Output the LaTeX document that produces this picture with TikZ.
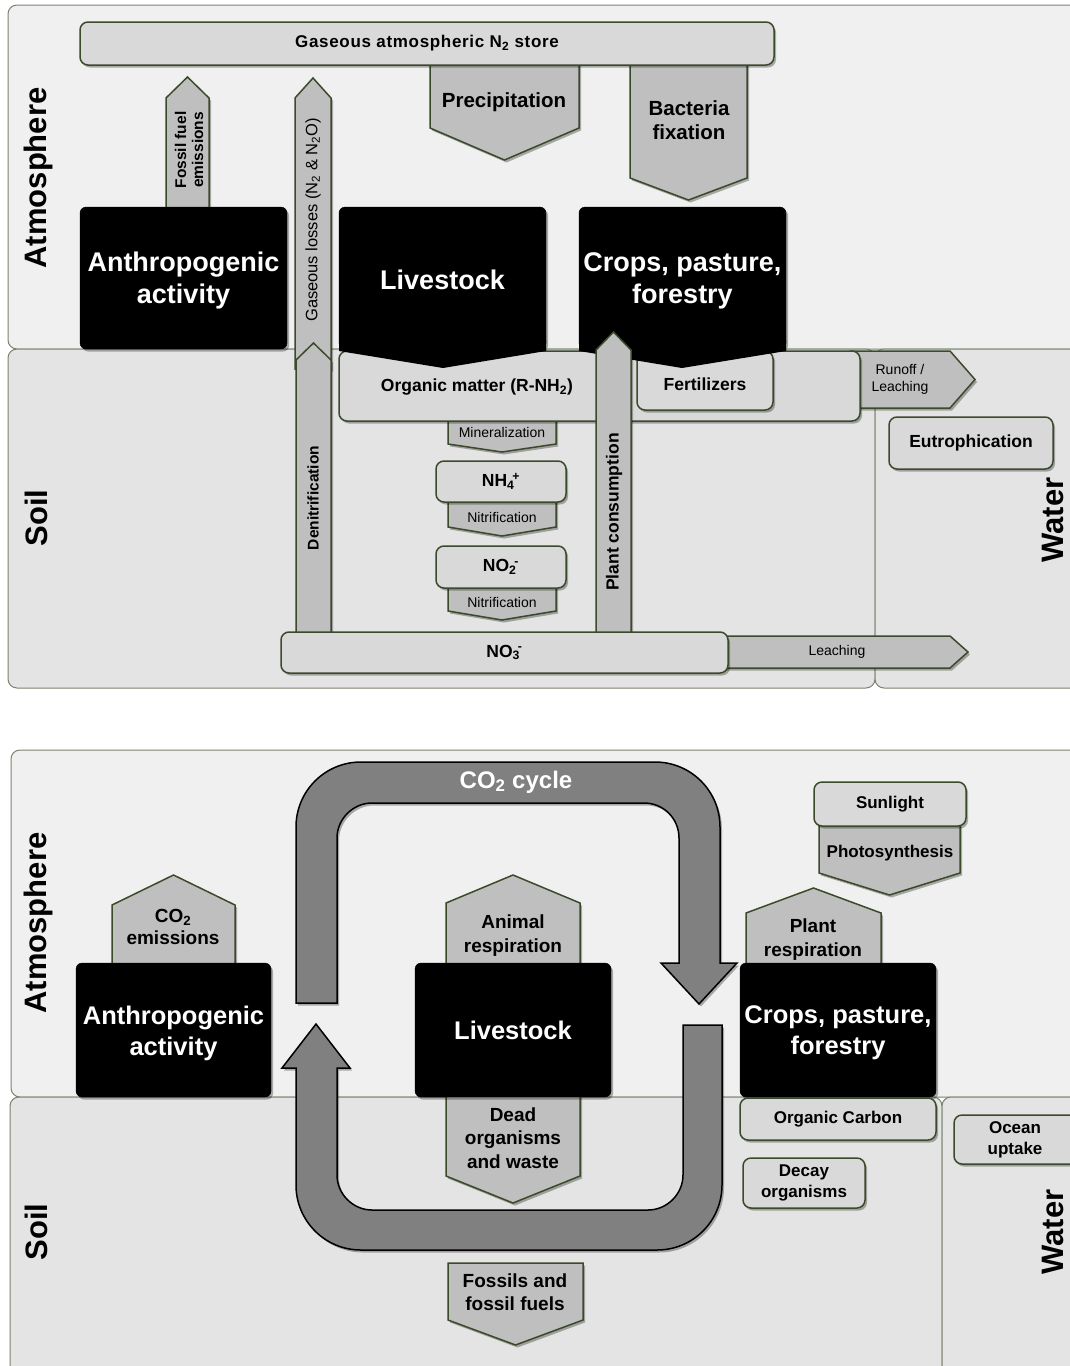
\documentclass[tikz,border=0pt]{standalone}
\usepackage{fontspec}
\setmainfont{Liberation Sans}
\usetikzlibrary{shadows}
\definecolor{atmfill}{HTML}{F0F0F0}
\definecolor{soilfill}{HTML}{E4E4E4}
\definecolor{panelline}{HTML}{7A8470}
\definecolor{olivedark}{HTML}{3B4A2B}
\definecolor{boxfill}{HTML}{D9D9D9}
\definecolor{arrowfill}{HTML}{BFBFBF}
\definecolor{loopgray}{HTML}{808080}
\newcommand{\subsup}[2]{\textsubscript{#1}\kern-0.12em\textsuperscript{#2}}
\tikzset{
  shadowed/.style={drop shadow={shadow xshift=2pt,shadow yshift=-2.5pt,opacity=0.3,fill=black}},
  panelA/.style={draw=panelline,fill=atmfill,line width=1pt,rounded corners=9pt},
  panelS/.style={draw=panelline,fill=soilfill,line width=1pt,rounded corners=9pt},
  lbox/.style={draw=olivedark,fill=boxfill,line width=1.5pt,rounded corners=8pt,shadowed,inner sep=0pt,align=center},
  abox/.style={draw=olivedark,fill=arrowfill,line width=1.5pt,line join=miter,shadowed},
  bbox/.style={draw=black,fill=black,rounded corners=6pt,shadowed,inner sep=0pt},
  btext/.style={inner sep=0pt,align=center,text=white},
  loopband/.style={draw=black,fill=loopgray,line width=1.5pt,shadowed},
  txt/.style={inner sep=0pt,align=center,text=black},
  fB/.style 2 args={font=\bfseries\fontsize{#1}{#2}\selectfont},
  fR/.style 2 args={font=\fontsize{#1}{#2}\selectfont},
  plabel/.style={txt,fB={31}{36},rotate=90},
}
% vertical pentagon arrow: x1, x2, base y, shoulder y, point y
\newcommand{\VPent}[5]{\draw[abox] (#1,#3) -- (#2,#3) -- (#2,#4) -- ({(#1+#2)/2},#5) -- (#1,#4) -- cycle;}
% horizontal pentagon arrow: x1, y1, y2, shoulder x, point x
\newcommand{\HPent}[5]{\draw[abox] (#1,#2) -- (#4,#2) -- (#5,{(#2+#3)/2}) -- (#4,#3) -- (#1,#3) -- cycle;}
% light box: name, x1, y1, x2, y2, text, font style
\newcommand{\LBox}[7]{\node[lbox,#7,minimum width={#4-#2},minimum height={#5-#3}] (#1) at ({(#2+#4)/2},{(#3+#5)/2}) {#6};}
% black box: name, x1, y1, x2, y2, text, font style, text offset
\newcommand{\BBox}[8]{\node[bbox,minimum width={#4-#2},minimum height={#5-#3}] (#1) at ({(#2+#4)/2},{(#3+#5)/2}) {};
  \node[btext,#7] (#1-t) at ({(#2+#4)/2},{(#3+#5)/2+#8}) {#6};}
\begin{document}
\begin{tikzpicture}[x=1pt,y=-1pt]
\useasboundingbox (0,0) rectangle (1070,1366);
\clip (0,0) rectangle (1070,1366);
\fill[white] (0,0) rectangle (1070,1366);

%================ TOP: NITROGEN =================
\draw[panelA] (8,5) rectangle (1090,349);
\draw[panelS] (8,349) rectangle (875,688);
\draw[panelS] (875,349) rectangle (1090,688);
\node[plabel] (atmT) at (38,178) {Atmosphere};
\node[plabel] (soilT) at (36,518) {Soil};
\node[plabel] (waterT) at (1053,520) {Water};

\VPent{430}{579}{62}{128}{160}
\node[txt,fB={20.5}{24}] (precip) at (504,102) {Precipitation};
\VPent{630}{747}{62}{178}{200}
\node[txt,fB={20.5}{24}] (bact) at (689,120) {Bacteria\\fixation};
\LBox{n2store}{80}{22}{774}{65}{\addfontfeature{LetterSpace=4}Gaseous atmospheric N\textsubscript{2} store}{fB={17}{19}}

\VPent{166}{209}{208}{98}{77}
\node[txt,fB={15.5}{17},rotate=90] (fossilT) at (189,150) {Fossil fuel\\emissions};
\VPent{295}{331}{369}{98}{78}
\node[txt,fR={16.5}{18},rotate=90] (gasloss) at (313,220) {Gaseous losses (N\textsubscript{2} \& N\textsubscript{2}O)};

\HPent{850}{351}{408}{950}{975}
\node[txt,fR={14}{17}] (runoff) at (900,379) {Runoff /\\Leaching};
\VPent{448}{556}{419}{444}{452}
\node[txt,fR={14}{16}] (mineral) at (502,432) {Mineralization};
\LBox{om}{339}{351}{860}{421}{}{}
\node[txt,fB={17.5}{20}] (omT) at (477,387) {Organic matter (R-NH\textsubscript{2})};
\LBox{fert}{637}{351}{773}{410}{}{}
\node[txt,fB={17.5}{20}] (fertT) at (705,384) {Fertilizers};

\BBox{anthT}{80}{207}{287}{349}{Anthropogenic\\activity}{fB={27}{32}}{3}
\BBox{liveT}{339}{207}{546}{349}{Livestock}{fB={27}{32}}{2}
\fill[black] (339,340) -- (546,340) -- (546,351) -- (443,368) -- (339,351) -- cycle;
\BBox{cropT}{579}{207}{786}{349}{Crops, pasture,\\forestry}{fB={27}{32}}{3}
\fill[black] (579,340) -- (786,340) -- (786,351) -- (682,368) -- (579,351) -- cycle;

\VPent{448}{556}{500}{527}{536}
\node[txt,fR={14}{16}] (nitr1) at (502,517) {Nitrification};
\LBox{nh4}{436}{461}{566}{502}{NH\subsup{4}{+}}{fB={17.5}{20}}
\VPent{448}{556}{586}{611}{620}
\node[txt,fR={14}{16}] (nitr2) at (502,602) {Nitrification};
\LBox{no2}{436}{546}{566}{588}{NO\subsup{2}{-}}{fB={17.5}{20}}

\VPent{296}{331}{634}{360}{343}
\node[txt,fB={15.5}{17},rotate=90] (denit) at (313,498) {Denitrification};
\VPent{596}{631}{634}{350}{332}
\node[txt,fB={17.5}{20},rotate=90] (plantc) at (614,512) {Plant consumption};

\HPent{720}{636}{668}{950}{968}
\node[txt,fR={14}{16}] (leach) at (837,652) {Leaching};
\LBox{no3}{281}{632}{728}{673}{NO\subsup{3}{-}}{fB={17.5}{20}}
\LBox{eutro}{889}{417}{1053}{469}{Eutrophication}{fB={17.5}{20}}

%================ BOTTOM: CARBON =================
\draw[panelA] (11,750) rectangle (1090,1097);
\draw[panelS] (10,1097) rectangle (942,1390);
\draw[panelS] (942,1097) rectangle (1090,1390);
\node[plabel] (atmB) at (38,923) {Atmosphere};
\node[plabel] (soilB) at (36,1232) {Soil};
\node[plabel] (waterB) at (1053,1232) {Water};

% upper band of the CO2 loop
\draw[loopband] (296,1003) -- (296,827) .. controls (296,791) and (325,762) .. (361,762)
  -- (655,762) .. controls (691,762) and (720,791) .. (720,827)
  -- (720,963) -- (737,963) -- (699,1004) -- (661,963) -- (679,963)
  -- (679,838) .. controls (679,819) and (664,803) .. (644,803)
  -- (372,803) .. controls (353,803) and (337,819) .. (337,838)
  -- (337,1003) -- cycle;
% lower band of the CO2 loop
\draw[loopband] (683,1025) -- (722,1025) -- (722,1185) .. controls (722,1221) and (693,1250) .. (657,1250)
  -- (361,1250) .. controls (325,1250) and (296,1221) .. (296,1185)
  -- (296,1068) -- (282,1068) -- (316,1024) -- (350,1068) -- (337,1068)
  -- (337,1175) .. controls (337,1194) and (353,1210) .. (372,1210)
  -- (648,1210) .. controls (667,1210) and (683,1194) .. (683,1175) -- cycle;
\node[inner sep=0pt,text=white,fB={24}{28}] (co2cycle) at (516,782) {CO\textsubscript{2} cycle};

\VPent{112}{235}{965}{905}{875}
\node[txt,fB={19}{22}] (co2em) at (173,927) {CO\textsubscript{2}\\emissions};
\VPent{446}{580}{965}{903}{875}
\node[txt,fB={19}{24}] (animresp) at (513,936) {Animal\\respiration};
\VPent{746}{881}{965}{913}{888}
\node[txt,fB={19}{24}] (plantresp) at (813,940) {Plant\\respiration};
\VPent{819}{960}{824}{873}{895}
\node[txt,fB={17}{20}] (photo) at (890,853) {Photosynthesis};
\LBox{sun}{814}{782}{966}{826}{Sunlight}{fB={17}{20}}

\VPent{446}{580}{1095}{1176}{1203}
\node[txt,fB={19}{23.5}] (dead) at (513,1138) {Dead\\organisms\\and waste};
\VPent{448}{583}{1263}{1320}{1345}
\node[txt,fB={19}{23}] (fossils) at (515,1292) {Fossils and\\fossil fuels};

\BBox{anthB}{76}{963}{271}{1097}{Anthropogenic\\activity}{fB={25.5}{31}}{3}
\BBox{liveB}{415}{963}{611}{1097}{Livestock}{fB={25.5}{31}}{0}
\BBox{cropB}{740}{963}{936}{1097}{Crops, pasture,\\forestry}{fB={25.5}{31}}{3}

\LBox{orgc}{740}{1098}{936}{1140}{Organic Carbon}{fB={17}{20}}
\LBox{decay}{743}{1158}{865}{1208}{Decay\\organisms}{fB={17}{21}}
\LBox{ocean}{954}{1115}{1090}{1164}{}{}
\node[txt,fB={17}{21}] (oceanT) at (1015,1140) {Ocean\\uptake};
\end{tikzpicture}
\end{document}
